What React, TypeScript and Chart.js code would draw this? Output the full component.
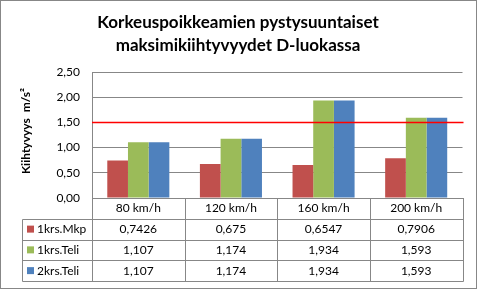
import { useEffect, useRef } from "react";
import { Chart, registerables } from "chart.js";

Chart.register(...registerables);

const categories = ["80 km/h", "120 km/h", "160 km/h", "200 km/h"];
const seriesNames = ["1krs.Mkp", "1krs.Teli", "2krs.Teli"];
const mkpValues = [0.7426, 0.675, 0.6547, 0.7906];
const teli1Values = [1.107, 1.174, 1.934, 1.593];
const teli2Values = [1.107, 1.174, 1.934, 1.593];
const seriesColors = ["#C0504D", "#9BBB59", "#4F81BD"];
const limitValue = 1.5;
const yMin = 0;
const yMax = 2.5;
const yStep = 0.5;
const titleLines = ["Korkeuspoikkeamien pystysuuntaiset", "maksimikiihtyvyydet D-luokassa"];
const yAxisTitle = "Kiihtyvyys  m/s²";

const FONT = "Lato, 'Noto Sans', sans-serif";
const GRID = "#878787";

const fmt = (v: number) => String(v).replace(".", ",");

export default function App() {
  const ref = useRef<HTMLCanvasElement | null>(null);

  useEffect(() => {
    document.body.style.margin = "0";
    const canvas = ref.current;
    if (!canvas) return;
    const allSeries = [mkpValues, teli1Values, teli2Values];

    const overlay = {
      id: "overlay",
      afterDatasetsDraw(chart: any) {
        const { ctx, chartArea, scales } = chart;
        const y = scales.y.getPixelForValue(limitValue);
        ctx.save();
        ctx.strokeStyle = "#FF0000";
        ctx.lineWidth = 1.5;
        ctx.beginPath();
        ctx.moveTo(chartArea.left, y);
        ctx.lineTo(chartArea.right + 1, y);
        ctx.stroke();
        ctx.restore();
      },
      afterDraw(chart: any) {
        const { ctx, chartArea, scales } = chart;
        const xs = scales.x;
        ctx.save();
        // outer border
        ctx.strokeStyle = GRID;
        ctx.lineWidth = 1;
        ctx.strokeRect(0.5, 0.5, 476, 288);

        // title
        ctx.fillStyle = "#000";
        ctx.font = `bold 17px ${FONT}`;
        ctx.textAlign = "center";
        ctx.textBaseline = "middle";
        ctx.fillText(titleLines[0], 238, 23);
        ctx.fillText(titleLines[1], 238, 46);

        // y title
        ctx.save();
        ctx.translate(26, 131);
        ctx.rotate(-Math.PI / 2);
        ctx.font = `bold 12px ${FONT}`;
        ctx.fillText(yAxisTitle, 0, 0);
        ctx.restore();

        // table
        const catW = (chartArea.right - chartArea.left) / categories.length;
        const top = chartArea.bottom;
        const rowH = 20.75;
        const tableLeft = 22.5;
        const labelRight = Math.round(chartArea.left) + 0.5;
        const right = Math.round(chartArea.right) + 0.5;
        ctx.strokeStyle = GRID;
        ctx.lineWidth = 1;
        ctx.beginPath();
        for (let i = 1; i <= 4; i++) {
          const yy = Math.round(top + i * rowH) + 0.5;
          ctx.moveTo(tableLeft, yy);
          ctx.lineTo(right, yy);
        }
        const bottom = Math.round(top + 4 * rowH) + 0.5;
        ctx.moveTo(tableLeft, Math.round(top + rowH) + 0.5);
        ctx.lineTo(tableLeft, bottom);
        ctx.moveTo(labelRight, top);
        ctx.lineTo(labelRight, bottom);
        for (let i = 0; i < categories.length; i++) {
          const cx = Math.round(xs.getPixelForValue(i) + catW / 2) + 0.5;
          ctx.moveTo(cx, top);
          ctx.lineTo(cx, bottom);
        }
        ctx.stroke();

        ctx.font = `12px ${FONT}`;
        ctx.textBaseline = "middle";
        for (let s = 0; s < seriesNames.length; s++) {
          const cy = top + (s + 1.5) * rowH;
          ctx.fillStyle = seriesColors[s];
          ctx.fillRect(27, cy - 3.5, 7, 7);
          ctx.fillStyle = "#000";
          ctx.textAlign = "left";
          ctx.fillText(seriesNames[s], 37, cy);
          ctx.textAlign = "center";
          allSeries[s].forEach((v, i) => {
            ctx.fillText(fmt(v), xs.getPixelForValue(i), cy);
          });
        }
        ctx.restore();
      },
    };

    const chart = new Chart(canvas, {
      type: "bar",
      data: {
        labels: categories,
        datasets: seriesNames.map((name, i) => ({
          label: name,
          data: allSeries[i],
          backgroundColor: seriesColors[i],
          borderWidth: 0,
          categoryPercentage: 0.67,
          barPercentage: 1,
        })),
      },
      options: {
        responsive: false,
        animation: false,
        devicePixelRatio: 1,
        layout: { padding: { top: 72, right: 19.5, left: 0, bottom: 0 } },
        plugins: {
          legend: { display: false },
          tooltip: { enabled: false },
          title: { display: false },
        },
        scales: {
          x: {
            grid: { display: false, drawTicks: false },
            border: { display: true, color: GRID, width: 1 },
            ticks: {
              color: "#000",
              font: { family: FONT, size: 12 },
              padding: 3,
              maxRotation: 0,
            },
            afterFit: (s: any) => {
              s.height = 96;
            },
          },
          y: {
            min: yMin,
            max: yMax,
            grid: { color: GRID, drawTicks: false },
            border: { display: true, color: GRID, width: 1 },
            ticks: {
              stepSize: yStep,
              color: "#000",
              font: { family: FONT, size: 12 },
              padding: 12,
              callback: (v: any) => Number(v).toFixed(2).replace(".", ","),
            },
            afterFit: (s: any) => {
              s.width = 92;
            },
          },
        },
      },
      plugins: [overlay],
    });
    return () => chart.destroy();
  }, []);

  return (
    <div style={{ width: 482, height: 294 }}>
      <canvas ref={ref} width={482} height={294} style={{ display: "block" }} />
    </div>
  );
}
